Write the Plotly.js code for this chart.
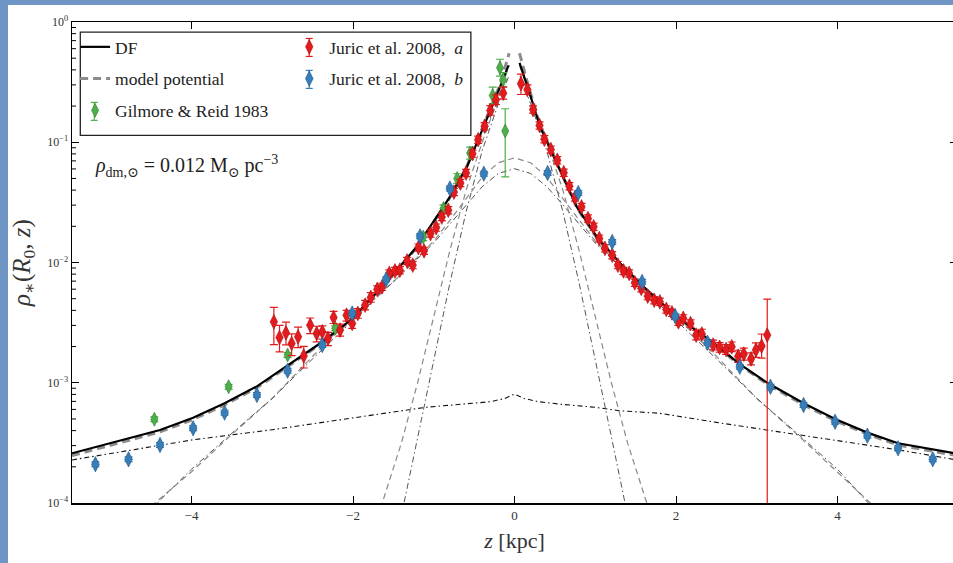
<!DOCTYPE html>
<html>
<head>
<meta charset="utf-8">
<script src="https://cdn.plot.ly/plotly-3.0.1.min.js"></script>
<style>
  html, body { margin: 0; padding: 0; overflow: hidden; background: #6f95c5; width: 953px; height: 563px; }
  #chart { position: absolute; left: 8px; top: 5px; width: 955px; height: 558px; background: #fff; }
</style>
</head>
<body>
<div id="chart"></div>
<script>
// ---------- data ----------
// Juric et al. 2008, a (red)
const redZ = [-2.98,-2.91,-2.83,-2.76,-2.68,-2.61,-2.53,-2.45,-2.38,-2.31,-2.24,-2.16,-2.08,-2.01,-1.94,-1.85,-1.78,-1.70,-1.64,-1.55,
  -1.48,-1.42,-1.33,-1.26,-1.19,-1.12,-1.04,-0.97,-0.90,-0.82,-0.75,-0.67,-0.60,-0.52,-0.45,-0.37,-0.30,-0.23,-0.14,
  0.08,0.16,0.23,0.31,0.37,0.45,0.53,0.61,0.68,0.75,0.83,0.91,0.98,1.05,1.12,1.21,1.28,1.35,1.42,1.49,
  1.57,1.65,1.73,1.80,1.88,1.95,2.03,2.09,2.18,2.25,2.32,2.46,2.54,2.62,2.69,2.77,2.84,2.93,2.99,3.06,3.13];
const redRho = [3.21e-3,2.38e-3,2.60e-3,2.12e-3,2.41e-3,1.67e-3,3.01e-3,2.57e-3,2.65e-3,2.34e-3,3.49e-3,2.74e-3,3.65e-3,3.11e-3,3.77e-3,4.42e-3,5.12e-3,5.97e-3,6.27e-3,8.11e-3,
  8.51e-3,8.63e-3,1.03e-2,9.51e-3,1.33e-2,1.25e-2,1.74e-2,1.95e-2,2.39e-2,2.72e-2,3.85e-2,4.58e-2,5.55e-2,8.04e-2,0.105,0.136,0.184,0.226,0.256,
  0.307,0.274,0.187,0.138,0.106,8.69e-2,7.08e-2,5.58e-2,4.31e-2,3.47e-2,2.90e-2,2.32e-2,1.98e-2,1.58e-2,1.31e-2,1.15e-2,9.51e-3,8.51e-3,8.11e-3,6.78e-3,
  6.10e-3,5.25e-3,4.86e-3,4.71e-3,4.07e-3,3.81e-3,3.21e-3,3.43e-3,3.11e-3,2.49e-3,2.54e-3,2.06e-3,1.97e-3,1.89e-3,1.99e-3,1.66e-3,1.73e-3,1.58e-3,1.87e-3,2.02e-3,2.49e-3];
// error bars in dex (up / down)
const redErrUp = [0.12,0.10,0.09,0.08,0.08,0.08,0.06,0.06,0.05,0.05,0.05,0.05,0.04,0.04,0.04,0.04,0.04,0.03,0.03,0.03,
  0.03,0.03,0.03,0.03,0.03,0.03,0.03,0.03,0.03,0.03,0.03,0.03,0.03,0.03,0.03,0.03,0.04,0.04,0.05,
  0.08,0.04,0.03,0.03,0.03,0.03,0.03,0.03,0.03,0.03,0.03,0.03,0.03,0.03,0.03,0.03,0.03,0.03,0.03,0.03,
  0.03,0.03,0.03,0.03,0.03,0.03,0.03,0.03,0.03,0.04,0.04,0.04,0.04,0.04,0.04,0.05,0.05,0.05,0.06,0.10,0.30];
const redErrDown = [0.19,0.12,0.10,0.10,0.09,0.10,0.07,0.07,0.06,0.06,0.05,0.05,0.05,0.04,0.04,0.04,0.04,0.03,0.03,0.03,
  0.03,0.03,0.03,0.03,0.03,0.03,0.03,0.03,0.03,0.03,0.03,0.03,0.03,0.03,0.03,0.03,0.04,0.04,0.05,
  0.09,0.04,0.03,0.03,0.03,0.03,0.03,0.03,0.03,0.03,0.03,0.03,0.03,0.03,0.03,0.03,0.03,0.03,0.03,0.03,
  0.03,0.03,0.03,0.03,0.03,0.03,0.03,0.03,0.03,0.04,0.04,0.04,0.04,0.04,0.04,0.05,0.05,0.05,0.06,0.10,9];

// Juric et al. 2008, b (blue)
const blueZ = [-5.19,-4.78,-4.39,-3.98,-3.59,-3.19,-2.81,-2.38,-2.01,-1.59,-1.17,-0.80,-0.38,
  0.41,0.79,1.21,1.58,1.99,2.39,2.79,3.17,3.58,3.97,4.37,4.75,5.18];
const blueRho = [2.10e-4,2.31e-4,3.04e-4,4.18e-4,5.64e-4,7.91e-4,1.26e-3,2.06e-3,3.77e-3,7.23e-3,1.65e-2,4.12e-2,5.48e-2,
  5.55e-2,3.78e-2,1.48e-2,6.90e-3,3.58e-3,2.15e-3,1.36e-3,9.27e-4,6.53e-4,4.74e-4,3.63e-4,2.85e-4,2.31e-4];
const blueErr = 0.02;

// Gilmore & Reid 1983 (green)
const greenZ = [-4.46,-3.54,-2.81,-2.22,-1.13,-0.88,-0.71,-0.55,-0.27,-0.18,-0.14,-0.115];
const greenRho = [4.97e-4,9.27e-4,1.70e-3,2.84e-3,1.63e-2,2.81e-2,4.99e-2,8.13e-2,0.245,0.417,0.331,0.124];
const greenErrUp = [0.02,0.02,0.02,0.02,0.03,0.03,0.04,0.05,0.07,0.07,0.06,0.185];
const greenErrDown = [0.02,0.02,0.02,0.02,0.03,0.03,0.04,0.05,0.07,0.07,0.06,0.382];

// DF total (black solid)
const dfZ = [-5.48,-4.78,-4.39,-3.98,-3.59,-3.19,-2.82,-2.41,-2.03,-1.62,-1.21,-0.80,-0.59,-0.38,-0.18,-0.074,null,
  0.062,0.177,0.318,0.566,0.772,1.02,1.31,1.60,2.01,2.42,2.79,3.14,3.58,3.97,4.37,4.75,5.23,5.48];
const dfRho = [2.59e-4,3.45e-4,4.05e-4,5.12e-4,6.75e-4,9.33e-4,1.38e-3,2.12e-3,3.32e-3,6.47e-3,1.35e-2,3.51e-2,6.22e-2,0.134,0.287,0.436,null,
  0.457,0.269,0.134,5.85e-2,2.90e-2,1.63e-2,9.82e-3,6.27e-3,3.53e-3,2.26e-3,1.43e-3,9.89e-4,6.75e-4,4.99e-4,3.85e-4,3.14e-4,2.76e-4,2.57e-4];

// model potential total (grey thick dashed)
const modZ = [-5.48,-4.78,-4.39,-3.98,-3.59,-3.19,-2.82,-2.41,-2.03,-1.62,-1.21,-0.80,-0.59,-0.38,-0.18,-0.066,null,
  0.062,0.177,0.318,0.566,0.772,1.02,1.31,1.60,2.01,2.42,2.79,3.14,3.58,3.97,4.37,4.75,5.23,5.48];
const modRho = [2.48e-4,3.32e-4,3.90e-4,4.95e-4,6.55e-4,9.10e-4,1.35e-3,2.08e-3,3.27e-3,6.38e-3,1.33e-2,3.47e-2,6.30e-2,0.138,0.300,0.55,null,
  0.55,0.285,0.138,5.75e-2,2.85e-2,1.60e-2,9.65e-3,6.15e-3,3.47e-3,2.22e-3,1.40e-3,9.65e-4,6.55e-4,4.85e-4,3.73e-4,3.03e-4,2.66e-4,2.48e-4];

// thin-disc components
const thinModZ = [-1.66,-1.4,-1.2,-1.0,-0.8,-0.6,-0.4,-0.2,-0.066,null,0.062,0.2,0.4,0.6,0.8,1.0,1.2,1.4,1.66];
const thinModRho = [9e-5,3.16e-4,1e-3,3.55e-3,1.26e-2,3.98e-2,0.1,0.234,0.437,null,0.437,0.234,0.1,3.98e-2,1.26e-2,3.55e-3,1e-3,3.16e-4,9e-5];
const thinDfZ = [-1.40,-1.2,-1.0,-0.8,-0.6,-0.4,-0.2,-0.07,null,0.07,0.2,0.4,0.6,0.8,1.0,1.2,1.40];
const thinDfRho = [7.9e-5,3.55e-4,1.58e-3,6.76e-3,2.63e-2,8.51e-2,0.209,0.355,null,0.355,0.209,8.51e-2,2.63e-2,6.76e-3,1.58e-3,3.55e-4,7.9e-5];

// thick-disc components
const thickZ = [-4.5,-4.0,-3.5,-3.0,-2.5,-2.0,-1.5,-1.0,-0.8,-0.6,-0.4,-0.2,0,0.2,0.4,0.6,0.8,1.0,1.5,2.0,2.5,3.0,3.5,4.0,4.45];
const thickModRho = [9.4e-5,1.82e-4,3.72e-4,7.41e-4,1.66e-3,3.55e-3,6.92e-3,1.51e-2,2.24e-2,3.39e-2,5.13e-2,6.76e-2,7.41e-2,
  6.76e-2,5.13e-2,3.39e-2,2.24e-2,1.51e-2,6.92e-3,3.55e-3,1.66e-3,7.41e-4,3.72e-4,1.82e-4,9.4e-5];
const thickDfRho = [8.9e-5,1.91e-4,3.80e-4,7.41e-4,1.58e-3,3.31e-3,6.92e-3,1.45e-2,2.09e-2,3.02e-2,4.27e-2,5.50e-2,6.03e-2,
  5.50e-2,4.27e-2,3.02e-2,2.09e-2,1.45e-2,6.92e-3,3.31e-3,1.58e-3,7.41e-4,3.80e-4,1.91e-4,8.9e-5];

// halo component
const haloZ = [-5.48,-4.5,-4.0,-3.0,-2.2,-1.5,-1.1,-0.6,-0.3,-0.12,0,0.12,0.3,0.6,1.0,1.3,1.8,2.5,3.1,4.0,4.76,5.48];
const haloRho = [2.28e-4,2.95e-4,3.34e-4,4.07e-4,4.90e-4,5.75e-4,6.25e-4,6.68e-4,6.95e-4,7.40e-4,8.05e-4,7.40e-4,6.95e-4,6.60e-4,6.25e-4,5.85e-4,5.57e-4,4.68e-4,4.05e-4,3.30e-4,2.76e-4,2.28e-4];

// axis ticks
const yTickVals = [1e-4, 1e-3, 1e-2, 1e-1, 1];
const yTickText = ['10<sup>−4</sup>', '10<sup>−3</sup>', '10<sup>−2</sup>', '10<sup>−1</sup>', '10<sup>0</sup>'];
const yMinorDigits = [2, 3, 4, 5, 6, 7, 8, 9];
const xTickVals = [-4, -2, 0, 2, 4];
const xTickText = ['−4', '−2', '0', '2', '4'];

// ---------- helpers ----------
const up = (v, d) => v.map((y, i) => y * (Math.pow(10, d[i]) - 1));
const dn = (v, d) => v.map((y, i) => d[i] >= 9 ? y : y * (1 - Math.pow(10, -d[i])));
const dexArr = (v, e) => v.map(() => e);

function curve(x, y, color, width, dash, extra) {
  return Object.assign({ x: x, y: y, type: 'scatter', mode: 'lines', connectgaps: false,
    line: { color: color, width: width, dash: dash }, showlegend: false, hoverinfo: 'skip' }, extra || {});
}

const traces = [
  curve(haloZ, haloRho, '#111', 1.1, '5px,3px,1.5px,3px'),
  curve(thickZ, thickModRho, '#8a8a8a', 1.2, '6px,4px'),
  curve(thickZ, thickDfRho, '#555', 1.0, '6px,3px,1.5px,3px'),
  curve(thinModZ, thinModRho, '#8a8a8a', 1.2, '6px,4px'),
  curve(thinDfZ, thinDfRho, '#555', 1.0, '6px,3px,1.5px,3px'),
  curve(modZ, modRho, '#8c8c8c', 3, '8px,5px', { name: 'model potential', showlegend: true, legend: 'legend', legendrank: 2, legendgroup: 'g2' }),
  curve(dfZ, dfRho, '#000', 2.2, 'solid', { name: 'DF', showlegend: true, legend: 'legend', legendrank: 1, legendgroup: 'g1' }),
  {
    x: greenZ, y: greenRho, type: 'scatter', mode: 'markers', name: 'Gilmore &amp; Reid 1983',
    legend: 'legend', legendrank: 3, legendgroup: 'g3',
    marker: { symbol: 'diamond-tall', size: 10, color: '#4daf4a', line: { color: '#2f7a2d', width: 0.6 } },
    error_y: { type: 'data', symmetric: false, array: up(greenRho, greenErrUp), arrayminus: dn(greenRho, greenErrDown),
      color: '#4daf4a', thickness: 1.2, width: 4 }
  },
  {
    x: redZ, y: redRho, type: 'scatter', mode: 'markers', name: 'Juric et al. 2008,  <i>a</i>',
    legend: 'legend2', legendrank: 1, legendgroup: 'g4',
    marker: { symbol: 'diamond-tall', size: 10.5, color: '#e41a1c', line: { color: '#a80f12', width: 0.6 } },
    error_y: { type: 'data', symmetric: false, array: up(redRho, redErrUp), arrayminus: dn(redRho, redErrDown),
      color: '#e41a1c', thickness: 1.2, width: 4 }
  },
  {
    x: blueZ, y: blueRho, type: 'scatter', mode: 'markers', name: 'Juric et al. 2008,  <i>b</i>',
    legend: 'legend2', legendrank: 2, legendgroup: 'g5',
    marker: { symbol: 'diamond-tall', size: 11, color: '#377eb8', line: { color: '#20588a', width: 0.6 } },
    error_y: { type: 'data', symmetric: false, array: up(blueRho, dexArr(blueRho, blueErr)), arrayminus: dn(blueRho, dexArr(blueRho, blueErr)),
      color: '#377eb8', thickness: 1.2, width: 4 }
  }
];

// ---------- decorations (axis minor ticks, legend frame and legend error glyphs) ----------
const plotL = 71.7, plotT = 21.5, plotW = 885.3, plotH = 481.8;   // page px of the plot area
const px2x = p => (p - plotL) / plotW;
const px2y = p => 1 - (p - plotT) / plotH;
const shapes = [];
// minor ticks of the log axis, in axis fraction (range is 10^-4 .. 10^0)
yTickVals.slice(0, -1).forEach(dec => yMinorDigits.forEach(m => {
  const f = (Math.log10(dec * m) + 4) / 4;
  shapes.push({ type: 'line', xref: 'paper', yref: 'paper', x0: 0, x1: 4 / plotW, y0: f, y1: f,
    line: { color: '#000', width: 1 } });
}));
// legend frame
shapes.push({ type: 'rect', xref: 'paper', yref: 'paper', x0: px2x(80), x1: px2x(470.7), y0: px2y(135), y1: px2y(31.7),
  line: { color: '#222', width: 1.3 }, fillcolor: 'rgba(0,0,0,0)', layer: 'above' });
// error-bar glyphs behind the legend markers
[[94, 111, '#4daf4a'], [309, 47, '#e41a1c'], [309, 79, '#377eb8']].forEach(([cx, cy, c]) => {
  const ln = (x0, y0, x1, y1) => shapes.push({ type: 'line', xref: 'paper', yref: 'paper',
    x0: px2x(x0), x1: px2x(x1), y0: px2y(y0), y1: px2y(y1), line: { color: c, width: 1.2 }, layer: 'above' });
  ln(cx, cy - 9, cx, cy + 9);
  ln(cx - 3.5, cy - 9, cx + 3.5, cy - 9);
  ln(cx - 3.5, cy + 9, cx + 3.5, cy + 9);
});

const serif = 'Liberation Serif, DejaVu Serif, serif';
const layout = {
  width: 955, height: 558,
  margin: { l: 64, r: 6, t: 16.5, b: 59.7 },
  paper_bgcolor: '#ffffff', plot_bgcolor: '#ffffff',
  font: { family: serif, color: '#222' },
  xaxis: {
    range: [-5.48, 5.48], tickmode: 'array', tickvals: xTickVals, ticktext: xTickText,
    ticks: 'inside', ticklen: 7, tickwidth: 1, tickcolor: '#000',
    showline: true, linecolor: '#000', linewidth: 1.5, mirror: 'ticks',
    showgrid: false, zeroline: false, tickfont: { size: 13, family: serif, color: '#333' },
    title: { text: '<i>z</i> [kpc]', font: { size: 22, family: serif, color: '#333' }, standoff: 10 }
  },
  yaxis: {
    type: 'log', range: [-4, 0], tickmode: 'array', tickvals: yTickVals, ticktext: yTickText,
    ticks: 'inside', ticklen: 7, tickwidth: 1, tickcolor: '#000',
    showline: true, linecolor: '#000', linewidth: 1.5, mirror: 'ticks',
    showgrid: false, zeroline: false, tickfont: { size: 12, family: serif, color: '#333' },
    title: { text: '<i>ρ</i><sub>∗</sub>(<i>R</i><sub>0</sub>, <i>z</i>)', font: { size: 25, family: serif, color: '#333' }, standoff: 10 }
  },
  legend: {
    x: 0.0035, y: 0.9855, xanchor: 'left', yanchor: 'top', bgcolor: 'rgba(0,0,0,0)',
    font: { size: 17.5, family: serif, color: '#222' }, traceorder: 'grouped', tracegroupgap: 6
  },
  legend2: {
    x: 0.2455, y: 0.9855, xanchor: 'left', yanchor: 'top', bgcolor: 'rgba(0,0,0,0)',
    font: { size: 17.5, family: serif, color: '#222' }, traceorder: 'grouped', tracegroupgap: 6
  },
  shapes: shapes,
  annotations: [{
    xref: 'paper', yref: 'paper', x: 0.0237, y: 0.700, xanchor: 'left', yanchor: 'middle', showarrow: false,
    text: '<i>ρ</i><sub>dm,⊙</sub> = 0.012 M<sub>⊙</sub> pc<sup>−3</sup>',
    font: { size: 20, family: serif, color: '#222' }
  }]
};

Plotly.newPlot('chart', traces, layout, { staticPlot: true, displayModeBar: false });
</script>
</body>
</html>
